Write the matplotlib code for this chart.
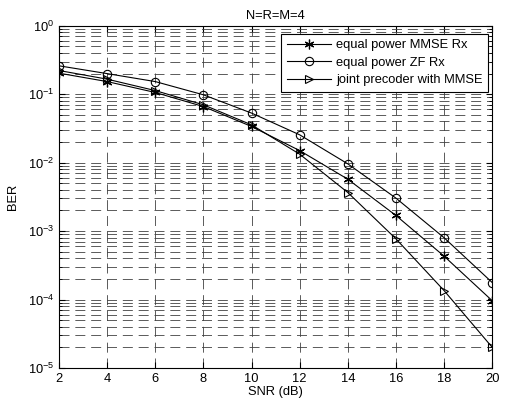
import numpy as np
import matplotlib
matplotlib.use("Agg")
import matplotlib.pyplot as plt
from matplotlib.ticker import LogLocator, NullFormatter

plt.rcParams['font.family'] = ['Liberation Sans', 'DejaVu Sans']

snr = [2, 4, 6, 8, 10, 12, 14, 16, 18, 20]
ber_mmse = [0.203, 0.153, 0.106, 0.066, 0.0338, 0.0150, 0.00573, 0.00169, 4.3e-4, 9.6e-5]
ber_zf = [0.26, 0.20, 0.153, 0.098, 0.053, 0.0255, 0.0096, 0.00303, 8.0e-4, 1.77e-4]
ber_joint = [0.222, 0.166, 0.113, 0.070, 0.0357, 0.0133, 0.00366, 7.7e-4, 1.35e-4, 2.0e-5]

labels = ["equal power MMSE Rx", "equal power ZF Rx", "joint precoder with MMSE"]

fs = 9.3
fig = plt.figure(figsize=(5.08, 4.05), dpi=100)
ax = fig.add_axes([0.116, 0.0914, 0.853, 0.845])

# matlab style asterisk, open circle, open triangle
ax.semilogy(snr, ber_mmse, '-', marker=(6, 2, 0), color='k', lw=0.8, ms=7, mew=0.9, label=labels[0])
ax.semilogy(snr, ber_zf, '-o', color='k', lw=0.8, ms=6, mew=0.8, mfc='none', label=labels[1])
ax.semilogy(snr, ber_joint, '->', color='k', lw=0.8, ms=6, mew=0.8, mfc='none', label=labels[2])

ax.set_xlim(2, 20)
ax.set_ylim(1e-5, 1)
ax.set_xticks(snr)
ax.yaxis.set_major_locator(LogLocator(base=10, numticks=10))
ax.yaxis.set_minor_locator(LogLocator(base=10, subs=np.arange(2, 10), numticks=20))
ax.yaxis.set_minor_formatter(NullFormatter())

# dashed grid on major and minor ticks
ax.grid(True, which='major', linestyle=(0, (12, 7)), color='0.25', lw=0.6)
ax.grid(True, which='minor', axis='y', linestyle=(0, (12, 7)), color='0.25', lw=0.6)

ax.tick_params(which='both', direction='in', top=True, right=True, labelsize=fs)
ax.tick_params(which='major', length=4)
ax.tick_params(which='minor', length=2)
for s in ax.spines.values():
    s.set_linewidth(0.8)

ax.set_xlabel("SNR (dB)", fontsize=fs, labelpad=1)
ax.set_ylabel("BER", fontsize=fs, labelpad=6)
ax.set_title("N=R=M=4", fontsize=fs, pad=5)

leg = ax.legend(loc='upper right', bbox_to_anchor=(0.991, 0.977), borderaxespad=0,
                fontsize=fs, fancybox=False, edgecolor='k', framealpha=1,
                handlelength=3.4, handletextpad=0.4, labelspacing=0.42, borderpad=0.45)
leg.get_frame().set_linewidth(0.8)

fig.savefig("out.png", dpi=100)
